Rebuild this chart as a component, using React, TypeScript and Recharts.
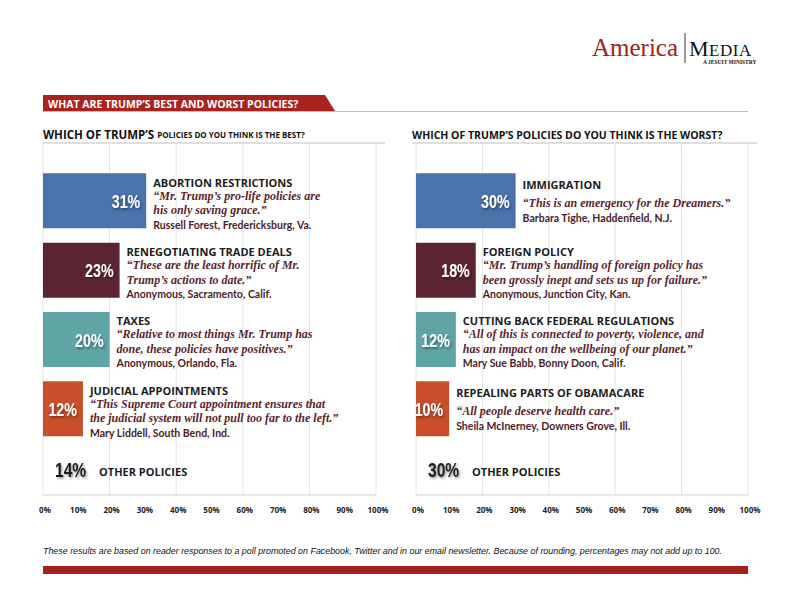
import React from 'react';
import { BarChart, Bar, XAxis, YAxis, CartesianGrid, Cell, LabelList } from 'recharts';

// left panel: "best" policies
const bestTitles = ['ABORTION RESTRICTIONS', 'RENEGOTIATING TRADE DEALS', 'TAXES', 'JUDICIAL APPOINTMENTS', 'OTHER POLICIES'];
const bestValues = [31, 23, 20, 12, 14];
const bestQuotes = [
    ['\u201cMr. Trump\u2019s pro-life policies are', 'his only saving grace.\u201d'],
    ['\u201cThese are the least horrific of Mr.', 'Trump\u2019s  actions to date.\u201d'],
    ['\u201cRelative to most things Mr. Trump has', 'done, these policies have positives.\u201d'],
    ['\u201cThis Supreme Court appointment ensures that', 'the judicial system will not pull too far to the left.\u201d'],
    [],
];
const bestAuthors = [
    'Russell Forest, Fredericksburg, Va.',
    'Anonymous, Sacramento, Calif.',
    'Anonymous, Orlando, Fla.',
    'Mary Liddell, South Bend, Ind.',
    '',
];

// right panel: "worst" policies
const worstTitles = ['IMMIGRATION', 'FOREIGN POLICY', 'CUTTING BACK FEDERAL REGULATIONS', 'REPEALING PARTS OF OBAMACARE', 'OTHER POLICIES'];
const worstValues = [30, 18, 12, 10, 30];
const worstQuotes = [
    ['\u201cThis is an emergency for the Dreamers.\u201d'],
    ['\u201cMr. Trump\u2019s  handling of foreign policy has', 'been grossly inept and sets us up for failure.\u201d'],
    ['\u201cAll of this is connected to poverty, violence, and', 'has an impact on the wellbeing of our planet.\u201d'],
    ['\u201cAll people deserve health care.\u201d'],
    [],
];
const worstAuthors = [
    'Barbara Tighe, Haddenfield, N.J.',
    'Anonymous, Junction City, Kan.',
    'Mary Sue Babb, Bonny Doon, Calif.',
    'Sheila McInerney, Downers Grove, Ill.',
    '',
];

const axisTicks = [0, 10, 20, 30, 40, 50, 60, 70, 80, 90, 100];
const barColors = ['#4a72ab', '#5c2432', '#5fa4a7', '#c94f2b', 'transparent'];

const SANS = "'Open Sans', 'DejaVu Sans', sans-serif";
const ARIAL = "'Liberation Sans', Arial, sans-serif";
const SERIF = "'Liberation Serif', 'DejaVu Serif', serif";
const MAROON = '#5b1f2e';

function makeRowLabel(titles: string[], values: number[], quotes: string[][], authors: string[]) {
    return (props: any) => {
        const vb = props.viewBox ?? props;
        const i = Number(props.value);
        const x = Number(vb.x);
        const w = Number(vb.width);
        const cy = Number(vb.y) + Number(vb.height) / 2;

        // "other" row: no bar, just the big number and the label
        if (i === titles.length - 1) {
            const oy = cy - 8;
            return (
                <g>
                    <text transform={`translate(${x + 12},${oy}) scale(0.78,1)`} dominantBaseline="central"
                        fontFamily={ARIAL} fontWeight={700} fontSize={20} fill="#1e1e1e"
                        filter="url(#txtShadow)">{values[i]}%</text>
                    <text x={x + 56} y={oy + 1} dominantBaseline="central" fontFamily={SANS} fontWeight={700}
                        fontSize={11} fill="#1c1c1c">{titles[i]}</text>
                </g>
            );
        }

        const lines = quotes[i];
        const tx = x + w + 7;
        const offs = lines.length === 2 ? [-18.5, -5, 9.5, 24] : [-16, 2, 17];
        return (
            <g>
                <text transform={`translate(${x + w - 6},${cy + 1}) scale(0.75,1)`} textAnchor="end"
                    dominantBaseline="central" fontFamily={ARIAL} fontWeight={700} fontSize={19} fill="#fff"
                    filter="url(#txtShadow)">{values[i]}%</text>
                <text x={tx} y={cy + offs[0]} dominantBaseline="central" fontFamily={SANS} fontWeight={700}
                    fontSize={11} fill="#1c1c1c">{titles[i]}</text>
                {lines.map((ln, k) => (
                    <text key={k} x={tx} y={cy + offs[1 + k]} dominantBaseline="central" fontFamily={SERIF}
                        fontStyle="italic" fontWeight={700} fontSize={12} fill={MAROON}>{ln}</text>
                ))}
                <text x={tx} y={cy + offs[offs.length - 1]} dominantBaseline="central" fontFamily="Lato, sans-serif"
                    fontWeight={700} fontSize={10.5} fill="#4a1c27">{authors[i]}</text>
            </g>
        );
    };
}

function PollChart({ titles, values, quotes, authors, left, width, margin }: any) {
    const rows = titles.map((t: string, i: number) => ({ name: t, value: values[i], row: i }));
    return (
        <div style={{ position: 'absolute', left, top: 0 }}>
            <BarChart width={width} height={612} data={rows} layout="vertical" margin={margin}>
                <CartesianGrid horizontal={false} stroke="#e4e4e4" />
                <XAxis
                    type="number"
                    domain={[0, 100]}
                    ticks={axisTicks}
                    tickFormatter={(v: number) => `${v}%`}
                    height={30}
                    axisLine={{ stroke: '#cfcfcf' }}
                    tickLine={false}
                    tickSize={0}
                    tickMargin={12}
                    tick={{ fontSize: 8, fontWeight: 700, fill: '#222', fontFamily: SANS, dx: 2 }}
                />
                <YAxis type="category" dataKey="name" hide padding={{ top: 23.3, bottom: -18 }} />
                <Bar dataKey="value" barSize={55} isAnimationActive={false}>
                    {rows.map((r: any, i: number) => (
                        <Cell key={r.name} fill={barColors[i]} />
                    ))}
                    <LabelList dataKey="row" content={makeRowLabel(titles, values, quotes, authors)} />
                </Bar>
            </BarChart>
        </div>
    );
}

export default function App() {
    return (
        <div style={{ position: 'absolute', left: 0, top: 0, width: 792, height: 612, background: '#fff', overflow: 'hidden' }}>
            <svg width={792} height={612} style={{ position: 'absolute', left: 0, top: 0 }}>
                <defs>
                    <filter id="txtShadow" x="-20%" y="-30%" width="150%" height="170%">
                        <feDropShadow dx="1.5" dy="1.5" stdDeviation="1.1" floodColor="#000" floodOpacity="0.45" />
                    </filter>
                </defs>

                {/* logo */}
                <text x={592} y={56} fontFamily={SERIF} fontSize={25} fill="#a3201b">America</text>
                <line x1={685} y1={33} x2={685} y2={63} stroke="#333" strokeWidth={1} />
                <text x={689} y={56} fontFamily={SERIF} fill="#111" letterSpacing={0.5}>
                    <tspan fontSize={22}>M</tspan>
                    <tspan fontSize={17}>EDIA</tspan>
                </text>
                <text x={703} y={63.5} fontFamily={SERIF} fontWeight={700} fontSize={5.5} fill="#111">A JESUIT MINISTRY</text>

                {/* banner */}
                <polygon points="43,95 325,95 335,111 43,111" fill="#a8231d" />
                <line x1={43} y1={111.5} x2={748} y2={111.5} stroke="#bdbdbd" strokeWidth={1} />
                <text x={48} y={103.5} dominantBaseline="central" fontFamily={SANS} fontWeight={700} fontSize={10.5}
                    fill="#fff">WHAT ARE TRUMP&#8217;S BEST AND WORST POLICIES?</text>

                {/* panel titles */}
                <text x={43} y={134} dominantBaseline="central" fontFamily={SANS} fontWeight={700} fill="#111">
                    <tspan fontSize={11.5}>WHICH OF TRUMP&#8217;S </tspan>
                    <tspan fontSize={8}>POLICIES DO YOU THINK IS THE BEST?</tspan>
                </text>
                <line x1={43} y1={143} x2={385} y2={143} stroke="#bdbdbd" strokeWidth={1} />
                <text x={412} y={134.5} dominantBaseline="central" fontFamily={SANS} fontWeight={700} fontSize={10.5}
                    fill="#111">WHICH OF TRUMP&#8217;S POLICIES DO YOU THINK IS THE WORST?</text>
                <line x1={412} y1={143} x2={757} y2={143} stroke="#bdbdbd" strokeWidth={1} />

                {/* footnote */}
                <text x={43} y={554} fontFamily={ARIAL} fontStyle="italic" fontSize={9.5} fill="#111"
                    textLength={679} lengthAdjust="spacingAndGlyphs">
                    These results are based on reader responses to a poll promoted on Facebook, Twitter and in our email newsletter. Because of rounding, percentages may not add up to 100.
                </text>
                <rect x={43} y={566} width={705} height={8} fill="#a3201b" />
            </svg>

            <PollChart
                titles={bestTitles}
                values={bestValues}
                quotes={bestQuotes}
                authors={bestAuthors}
                left={0}
                width={400}
                margin={{ top: 143, right: 24, bottom: 87, left: 43 }}
            />
            <PollChart
                titles={worstTitles}
                values={worstValues}
                quotes={worstQuotes}
                authors={worstAuthors}
                left={396}
                width={396}
                margin={{ top: 143, right: 44, bottom: 87, left: 20 }}
            />
        </div>
    );
}
